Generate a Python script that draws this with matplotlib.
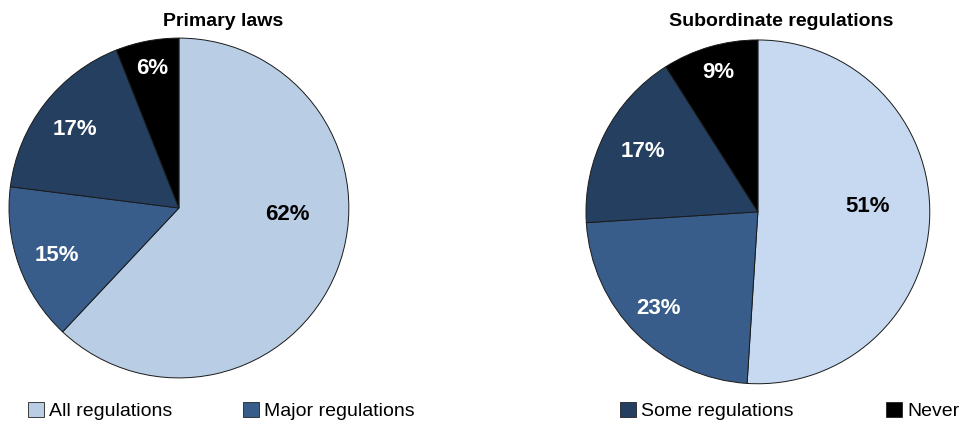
import matplotlib
matplotlib.use("Agg")
import matplotlib.pyplot as plt
from matplotlib.patches import Patch

plt.rcParams['font.family'] = ['Liberation Sans', 'DejaVu Sans']

categories = ["All regulations", "Major regulations", "Some regulations", "Never"]
primary_laws = [62, 15, 17, 6]
subordinate_regs = [51, 23, 17, 9]
titles = ["Primary laws", "Subordinate regulations"]
colors_left = ["#b9cde5", "#385d8a", "#253f60", "#000000"]
colors_right = ["#c6d9f1", "#385d8a", "#253f60", "#000000"]
label_colors = ["black", "white", "white", "white"]

# label positions (in pie-radius units) mimicking the original placement
label_pos_left = [(0.64, -0.04), (-0.72, -0.28), (-0.61, 0.46), (-0.16, 0.82)]
label_pos_right = [(0.64, 0.03), (-0.58, -0.56), (-0.67, 0.35), (-0.23, 0.81)]

fig = plt.figure(figsize=(9.63, 4.28), dpi=100)
ax1 = fig.add_axes([0.0093, 0.117, 0.353, 0.794])
ax2 = fig.add_axes([0.6085, 0.103, 0.357, 0.804])

for ax, vals, pos, cols in [(ax1, primary_laws, label_pos_left, colors_left),
                            (ax2, subordinate_regs, label_pos_right, colors_right)]:
    wedges, _ = ax.pie(vals, colors=cols, startangle=90, counterclock=False,
                       wedgeprops=dict(edgecolor="#1a1a1a", linewidth=0.7))
    for w in wedges:
        w.set_clip_on(False)
    for v, (x, y), tc in zip(vals, pos, label_colors):
        ax.text(x, y, f"{v}%", ha="center", va="center", color=tc,
                fontsize=16, fontweight="bold")
    ax.set_xlim(-1.0, 1.0)
    ax.set_ylim(-1.0, 1.0)
    ax.set_aspect("equal")
    ax.axis("off")

fig.text(223/963, 1 - 22/428, titles[0], ha="center", va="center", fontsize=14, fontweight="bold")
fig.text(781/963, 1 - 22/428, titles[1], ha="center", va="center", fontsize=14, fontweight="bold")

legend_x = [28/963, 243/963, 620/963, 886/963]
for cat, col, lx in zip(categories, colors_left, legend_x):
    h = Patch(facecolor=col, edgecolor="#222222", linewidth=0.6)
    fig.legend([h], [cat], loc="center left", bbox_to_anchor=(lx, 1 - 411/428),
               frameon=False, fontsize=14, handlelength=0.8, handleheight=0.8,
               handletextpad=0.3, borderaxespad=0, borderpad=0)

fig.savefig("out.png", dpi=100)
